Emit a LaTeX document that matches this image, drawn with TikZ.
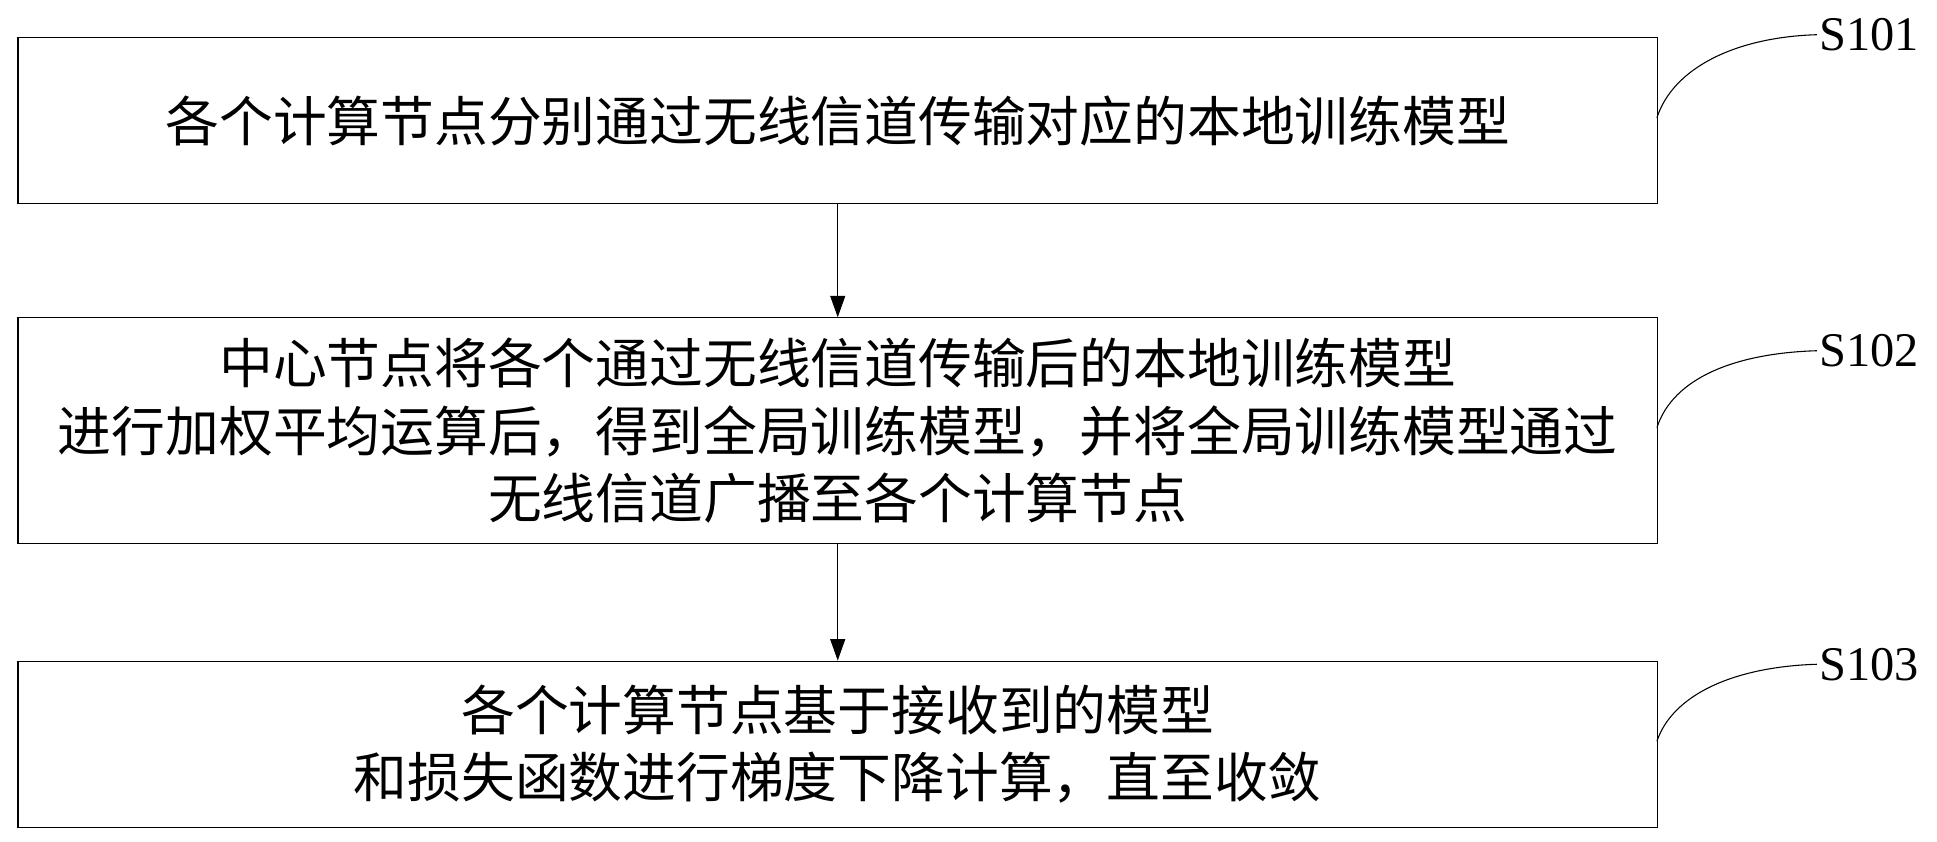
\documentclass[tikz,border=0pt]{standalone}
\usepackage{fontspec}
\setmainfont{Liberation Serif}
\newfontfamily\cjk{Noto Sans CJK SC}
\usetikzlibrary{arrows.meta}
\begin{document}
\begin{tikzpicture}[x=1.1523pt,y=-1.1523pt,
  stepbox/.style={draw,line width=1.1pt,minimum width=1323*1.1523pt,anchor=north west,inner sep=0pt,align=center,font=\cjk\fontsize{50}{63}\selectfont},
  lab/.style={font=\fontsize{45}{50}\selectfont,anchor=west,inner sep=2pt},
  arr/.style={-{Triangle[length=20pt,width=14pt]},line width=1pt},
  cur/.style={line width=1pt}]
\useasboundingbox (0,0) rectangle (1563,679);
\node[stepbox,minimum height=134*1.1523pt] (b1) at (14,30) {各个计算节点分别通过无线信道传输对应的本地训练模型};
\node[stepbox,minimum height=182*1.1523pt] (b2) at (14,256) {中心节点将各个通过无线信道传输后的本地训练模型\\进行加权平均运算后，得到全局训练模型，并将全局训练模型通过\\无线信道广播至各个计算节点};
\node[stepbox,minimum height=134*1.1523pt] (b3) at (14,533) {各个计算节点基于接收到的模型\\和损失函数进行梯度下降计算，直至收敛};
\draw[arr] (b1.south) -- (b2.north);
\draw[arr] (b2.south) -- (b3.north);
\node[lab] (s1) at (1466,28) {S101};
\node[lab] (s2) at (1466,283) {S102};
\node[lab] (s3) at (1466,536) {S103};
\coordinate (c1) at (1337,95);
\coordinate (c2) at (1337,345);
\coordinate (c3) at (1337,598);
\draw[cur] (c1) .. controls (1350,55) and (1400,30) .. (s1.west);
\draw[cur] (c2) .. controls (1350,305) and (1400,285) .. (s2.west);
\draw[cur] (c3) .. controls (1350,560) and (1400,538) .. (s3.west);
\end{tikzpicture}
\end{document}
